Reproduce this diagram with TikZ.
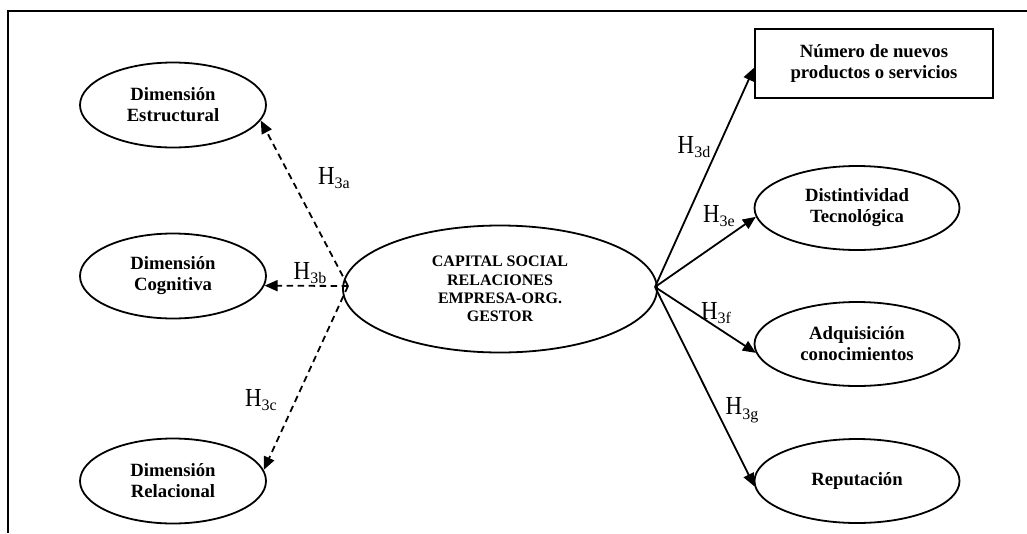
\documentclass[tikz,border=0pt]{standalone}
\usepackage{fontspec}
\setmainfont{Liberation Serif}
\usetikzlibrary{arrows.meta,shapes.geometric}

% hypothesis label: tall H with lowered subscript
\newcommand{\hlab}[1]{\scalebox{0.88}[1]{H}\raisebox{-4.5pt}{\fontsize{16}{16}\selectfont #1}}

\begin{document}
\begin{tikzpicture}[x=1pt,y=-1pt,
  construct/.style={ellipse, draw, line width=1.8pt, inner sep=0pt,
    minimum width=186pt, minimum height=85pt, align=center,
    font=\fontsize{18.7}{21}\selectfont\bfseries},
  outcome/.style={construct, minimum width=205pt, minimum height=84pt},
  core/.style={construct, minimum width=314pt, minimum height=127pt,
    font=\fontsize{16}{18.3}\selectfont\bfseries},
  countbox/.style={rectangle, draw, line width=1.8pt, inner sep=0pt,
    minimum width=238pt, minimum height=69pt, align=center,
    font=\fontsize{18.7}{21}\selectfont\bfseries},
  tiptri/.tip={Triangle[length=13pt,width=11pt]},
  dimlink/.style={dashed, dash pattern=on 6.5pt off 4.5pt, line width=1.8pt, -tiptri},
  effect/.style={line width=1.8pt, -tiptri},
  hyp/.style={inner sep=0pt, font=\fontsize{26}{26}\selectfont}
]
\useasboundingbox (0,0) rectangle (1027,533);

% open frame: top and left sides only
\coordinate (frameTop) at (1027,11);
\coordinate (frameCorner) at (8,11);
\coordinate (frameBottom) at (8,533);
\draw[line width=1.5pt] (frameTop) -- (frameCorner) -- (frameBottom);

% dimensions of social capital
\node[construct] (est) at (173,105) {Dimensión\\Estructural};
\node[construct] (cog) at (173,276) {Dimensión\\Cognitiva};
\node[construct] (rel) at (173,481) {Dimensión\\Relacional};

% central construct
\node[core] (cap) at (500,289) {CAPITAL SOCIAL\\RELACIONES\\EMPRESA-ORG.\\GESTOR};

% outcomes
\node[countbox] (num) at (874,63.5) {Número de nuevos\\productos o servicios};
\node[outcome] (dis) at (857,208) {Distintividad\\Tecnológica};
\node[outcome] (adq) at (857,344) {Adquisición\\conocimientos};
\node[outcome] (rep) at (857,481) {Reputación};

% connector origins
\coordinate (capL) at (348,286);
\coordinate (capR) at (655,287);

% dashed links to the dimensions
\draw[dimlink] (capL) -- (est.-10);
\draw[dimlink] (capL) -- (cog.-6);
\draw[dimlink] (capL) -- (rel.7);

% solid links to the outcomes
\draw[effect] (capR) -- (num.182);
\draw[effect] (capR) -- (dis.185);
\draw[effect] (capR) -- (adq.185);
\draw[effect] (capR) -- (rep.183);

% hypothesis labels
\node[hyp] (h3a) at (334,178) {\hlab{3a}};
\node[hyp] (h3b) at (310,273) {\hlab{3b}};
\node[hyp] (h3c) at (261,400) {\hlab{3c}};
\node[hyp] (h3d) at (694,147) {\hlab{3d}};
\node[hyp] (h3e) at (719,216) {\hlab{3e}};
\node[hyp] (h3f) at (716,313) {\hlab{3f}};
\node[hyp] (h3g) at (742,410) {\hlab{3g}};
\end{tikzpicture}
\end{document}
